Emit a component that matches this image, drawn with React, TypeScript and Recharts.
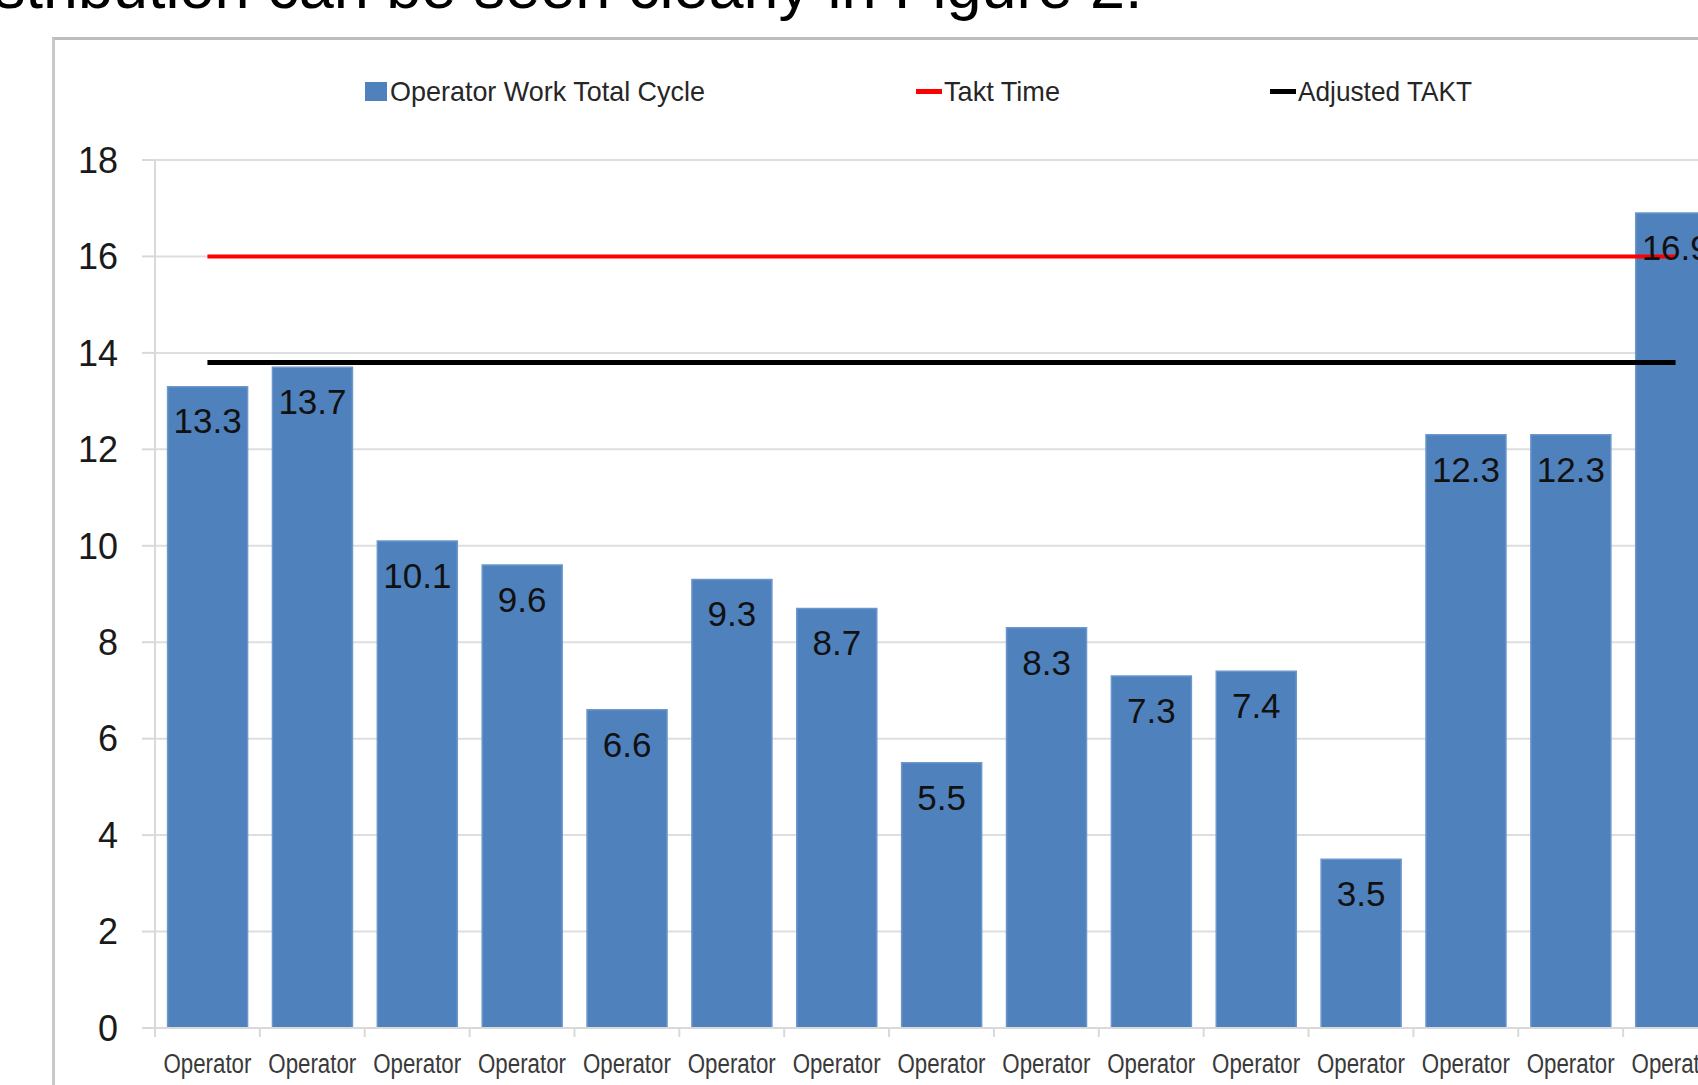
import React from 'react';
import { BarChart, Bar, Line, XAxis, YAxis, CartesianGrid, LabelList, Legend } from 'recharts';

const categories = [
  'Operator', 'Operator', 'Operator', 'Operator', 'Operator',
  'Operator', 'Operator', 'Operator', 'Operator', 'Operator',
  'Operator', 'Operator', 'Operator', 'Operator', 'Operator',
];
const cycleTimes = [13.3, 13.7, 10.1, 9.6, 6.6, 9.3, 8.7, 5.5, 8.3, 7.3, 7.4, 3.5, 12.3, 12.3, 16.9];
const taktTime = [16, 16, 16, 16, 16, 16, 16, 16, 16, 16, 16, 16, 16, 16, 16];
const adjustedTakt = [13.8, 13.8, 13.8, 13.8, 13.8, 13.8, 13.8, 13.8, 13.8, 13.8, 13.8, 13.8, 13.8, 13.8, 13.8];
const yTicks = [0, 2, 4, 6, 8, 10, 12, 14, 16, 18];

const SERIES_BAR = 'Operator Work Total Cycle';
const SERIES_TAKT = 'Takt Time';
const SERIES_ADJ = 'Adjusted TAKT';

const data = categories.map((name, i) => ({
  name,
  idx: i,
  cycle: cycleTimes[i],
  takt: taktTime[i],
  adj: adjustedTakt[i],
}));

const CHART_W = 1748;
const CHART_H = 1108;
const MARGIN = { top: 160, right: 20, bottom: 20, left: 0 };
const Y_AXIS_W = 155;
const BAND = (CHART_W - MARGIN.left - MARGIN.right - Y_AXIS_W) / categories.length;

const narrow = '"Liberation Sans Narrow", "Liberation Sans", Arial, sans-serif';
const sans = '"Liberation Sans", Arial, sans-serif';

const XTick = (props: any) => {
  const { x, y, payload, index } = props;
  const last = index === categories.length - 1;
  return (
    <g>
      <line x1={x - BAND / 2} x2={x - BAND / 2} y1={y} y2={y + 9} stroke="#d9d9d9" strokeWidth={2} />
      {last && <line x1={x + BAND / 2} x2={x + BAND / 2} y1={y} y2={y + 9} stroke="#d9d9d9" strokeWidth={2} />}
      <text
        x={x}
        y={y + 45}
        textAnchor="middle"
        fontFamily={narrow}
        fontSize={27}
        fill="#3a3a3a"
        textLength={88}
        lengthAdjust="spacingAndGlyphs"
      >
        {payload.value}
      </text>
    </g>
  );
};

const LegendContent = (props: any) => {
  const payload = props.payload || [];
  const find = (v: string) => payload.find((p: any) => p.value === v) || { value: v, color: '#000' };
  const bar = find(SERIES_BAR);
  const takt = find(SERIES_TAKT);
  const adj = find(SERIES_ADJ);
  const textProps = {
    fontFamily: narrow,
    fontSize: 28,
    fill: '#262626',
    lengthAdjust: 'spacingAndGlyphs' as const,
  };
  return (
    <svg width={CHART_W} height={130} style={{ display: 'block' }}>
      <rect x={365} y={82} width={22} height={19} fill="#4F81BD" />
      <text x={390} y={101} textLength={315} {...textProps}>{bar.value}</text>
      <rect x={916} y={89} width={26} height={5} fill="#FF0000" />
      <text x={944} y={101} textLength={116} {...textProps}>{takt.value}</text>
      <rect x={1270} y={89} width={26} height={5} fill="#000000" />
      <text x={1298} y={101} textLength={174} {...textProps}>{adj.value}</text>
    </svg>
  );
};

export default function App() {
  return (
    <div
      style={{
        position: 'fixed',
        left: 0,
        top: 0,
        width: 1698,
        height: 1085,
        overflow: 'hidden',
        background: '#ffffff',
      }}
    >
      <div
        style={{
          position: 'absolute',
          left: -6,
          top: -45,
          fontFamily: sans,
          fontSize: 63,
          color: '#000',
          whiteSpace: 'nowrap',
          lineHeight: '63px',
        }}
      >
        stribution can be seen clearly in Figure 2.
      </div>
      <div
        style={{
          position: 'absolute',
          left: 52,
          top: 37,
          width: 3000,
          height: 3000,
          borderTop: '3px solid #bdbdbd',
          borderLeft: '3px solid #c8c8c8',
        }}
      />
      <div style={{ position: 'absolute', left: 0, top: 0 }}>
        <BarChart
          width={CHART_W}
          height={CHART_H}
          data={data}
          margin={MARGIN}
          barCategoryGap="12%"
        >
          <CartesianGrid vertical={false} stroke="#dedede" strokeWidth={2} />
          <XAxis
            dataKey="name"
            allowDuplicatedCategory={true}
            axisLine={{ stroke: '#d9d9d9', strokeWidth: 2 }}
            tickLine={false}
            tickSize={0}
            tickMargin={0}
            height={60}
            interval={0}
            tick={<XTick />}
          />
          <YAxis
            type="number"
            domain={[0, 18]}
            ticks={yTicks}
            width={Y_AXIS_W}
            axisLine={{ stroke: '#d9d9d9', strokeWidth: 2 }}
            tickLine={{ stroke: '#d9d9d9', strokeWidth: 2 }}
            tickSize={13}
            tickMargin={24}
            tick={{ fontFamily: sans, fontSize: 36, fill: '#1a1a1a' }}
            interval={0}
          />
          <Legend
            verticalAlign="middle"
            align="center"
            layout="horizontal"
            wrapperStyle={{ top: 0, left: 0, width: CHART_W, height: 130 }}
            content={<LegendContent />}
          />
          <Bar
            dataKey="cycle"
            name={SERIES_BAR}
            fill="#4F81BD"
            stroke="#6b97cc"
            strokeWidth={1.5}
            isAnimationActive={false}
          >
            <LabelList
              dataKey="cycle"
              position="insideTop"
              offset={22}
              fill="#111111"
              fontFamily={sans}
              fontSize={35}
            />
          </Bar>
          <Line
            dataKey="takt"
            name={SERIES_TAKT}
            stroke="#FF0000"
            strokeWidth={4}
            dot={false}
            activeDot={false}
            isAnimationActive={false}
          />
          <Line
            dataKey="adj"
            name={SERIES_ADJ}
            stroke="#000000"
            strokeWidth={5}
            dot={false}
            activeDot={false}
            isAnimationActive={false}
          />
        </BarChart>
      </div>
    </div>
  );
}
